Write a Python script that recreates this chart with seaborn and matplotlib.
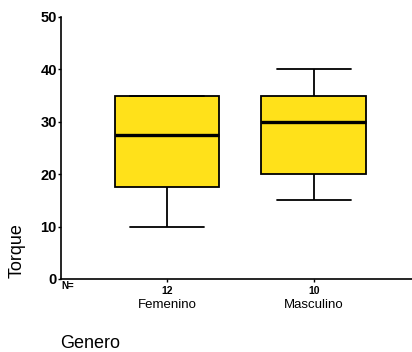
import numpy as np
import pandas as pd
import matplotlib
matplotlib.use('Agg')
import matplotlib.pyplot as plt
import seaborn as sns

# sample values consistent with the boxes shown (n=12 and n=10)
femenino = [10, 15, 17.5, 17.5, 25, 27.5, 27.5, 30, 35, 35, 35, 35]
masculino = [15, 20, 20, 20, 30, 30, 35, 35, 40, 40]
groups = ['Femenino', 'Masculino']
counts = [len(femenino), len(masculino)]

df = pd.DataFrame({
    'Genero': ['Femenino'] * len(femenino) + ['Masculino'] * len(masculino),
    'Torque': femenino + masculino,
})

sns.set_style('ticks')
plt.rcParams['font.family'] = ['Liberation Sans', 'DejaVu Sans']
plt.rcParams['text.color'] = 'black'
plt.rcParams['xtick.color'] = 'black'
plt.rcParams['ytick.color'] = 'black'
plt.rcParams['axes.edgecolor'] = 'black'

fig = plt.figure(figsize=(4.12, 3.52), dpi=100)
ax = fig.add_axes([61 / 412, 1 - 279 / 352, 351 / 412, 262 / 352])

sns.boxplot(data=df, x='Genero', y='Torque', order=groups, ax=ax,
            color='#FFE11A', saturation=1, width=0.714, linecolor='black',
            linewidth=1.3, showfliers=False,
            medianprops=dict(linewidth=2.4, color='black'),
            capwidths=0.5)

ax.set_ylim(0, 50)
ax.set_xlim(-0.721, 1.667)
ax.set_yticks([0, 10, 20, 30, 40, 50])
ax.set_yticklabels(['0', '10', '20', '30', '40', '50'], fontsize=10.5, fontweight='bold')
ax.set_xticks([0, 1])
ax.set_xticklabels([str(c) for c in counts], fontsize=7.5, fontweight='bold')
ax.tick_params(axis='y', length=2, width=1, pad=1)
ax.tick_params(axis='x', length=2, width=1, pad=3)
for side in ['top', 'right']:
    ax.spines[side].set_visible(False)
ax.spines['left'].set_linewidth(1.2)
ax.spines['bottom'].set_linewidth(1.2)

for i, g in enumerate(groups):
    ax.text(i, -5.0, g, ha='center', va='center', fontsize=9.5,
            transform=ax.transData, clip_on=False)
ax.text(68 / 412, 1 - 286 / 352, 'N=', transform=fig.transFigure,
        ha='center', va='center', fontsize=7, fontweight='bold')

ax.set_xlabel('')
ax.set_ylabel('')
fig.text(90 / 412, 1 - 344 / 352, 'Genero', ha='center', va='center', fontsize=13)
fig.text(17 / 412, 1 - 251 / 352, 'Torque', ha='center', va='center',
         fontsize=13, rotation=90)

fig.savefig('out.png', dpi=100)
